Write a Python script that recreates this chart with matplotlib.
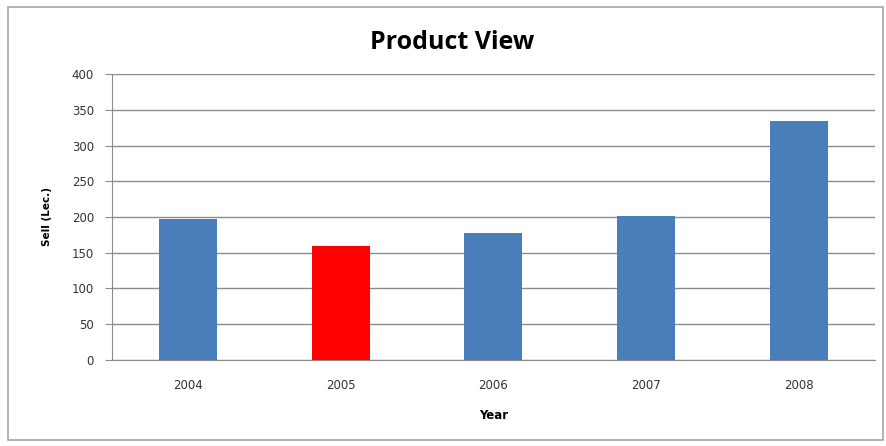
import matplotlib.pyplot as plt
from matplotlib.patches import Rectangle

# ========== DATA ========== #

years = ['2004', '2005', '2006', '2007', '2008']
sell = [197, 160, 178, 201, 334]
bar_colors = ['#4a7ebb', '#ff0000', '#4a7ebb', '#4a7ebb', '#4a7ebb']
y_ticks = [0, 50, 100, 150, 200, 250, 300, 350, 400]

# ========== PLOT ========== #

fig = plt.figure(figsize=(8.87, 4.46), dpi=100)
ax = fig.add_axes([0.1263, 0.193, 0.86, 0.641])

# outer chart border
fig.patches.append(Rectangle((0.009, 0.013), 0.987, 0.972, transform=fig.transFigure,
                             fill=False, edgecolor='#a6a6a6', linewidth=1.2))

x = range(len(years))
ax.bar(x, sell, width=0.38, color=bar_colors, zorder=3)

ax.set_xlim(-0.5, len(years) - 0.5)
ax.set_ylim(0, 400)
ax.set_yticks(y_ticks)
ax.set_xticks(list(x))
ax.set_xticklabels(years)
ax.grid(axis='y', color='#8c8c8c', linewidth=1.0, zorder=0)

for s in ['top', 'right']:
    ax.spines[s].set_visible(False)
ax.spines['left'].set_color('#8c8c8c')
ax.spines['bottom'].set_color('#8c8c8c')
ax.tick_params(axis='y', length=5, color='#8c8c8c', labelsize=8.5, labelcolor='#333333', pad=8)
ax.tick_params(axis='x', length=0, labelsize=8.5, labelcolor='#333333', pad=14)

fig.text(0.51, 0.905, 'Product View', ha='center', va='center',
         fontsize=18, fontweight='bold', family='Open Sans')
ax.set_xlabel('Year', fontsize=8.5, fontweight='bold', labelpad=12)
ax.set_ylabel('Sell (Lec.)', fontsize=7.5, fontweight='bold', labelpad=14)

plt.savefig('out.png', dpi=100)
